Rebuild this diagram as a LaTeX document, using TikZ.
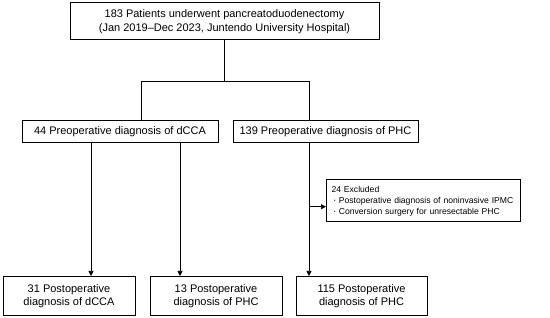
\documentclass[tikz,border=0pt]{standalone}
\usepackage{fontspec}
\setmainfont{Liberation Sans}
\usetikzlibrary{arrows.meta,positioning,calc}

\begin{document}
\begin{tikzpicture}[x=1pt,y=1pt,
  box/.style={draw,line width=1pt,align=center,inner sep=0pt,
    font=\fontsize{11}{13.5}\selectfont},
  link/.style={line width=0.7pt},
  arr/.style={link,-{Triangle[length=5pt,width=5pt]}}]
  \useasboundingbox (0,0) rectangle (550,318);
  % boxes
  \node[box,minimum width=309pt,minimum height=37pt] (top) at (224.5,296.5)
    {183 Patients underwent pancreatoduodenectomy\\(Jan 2019--Dec 2023, Juntendo University Hospital)};
  \node[box,minimum width=196pt,minimum height=22pt] (preD) at (120,186)
    {44 Preoperative diagnosis of dCCA};
  \node[box,minimum width=185pt,minimum height=22pt] (preP) at (325.5,186)
    {139 Preoperative diagnosis of PHC};
  \node[box,minimum height=42pt,align=left,anchor=west,text width=184pt,
    inner xsep=5pt,font=\fontsize{8.6}{11}\selectfont] (excl) at (326,117)
    {24 Excluded\\
     \hspace{1.5pt}{\fontsize{10}{10}\selectfont\textperiodcentered}\hspace{2.5pt}Postoperative diagnosis of noninvasive IPMC\\
     \hspace{1.5pt}{\fontsize{10}{10}\selectfont\textperiodcentered}\hspace{2.5pt}Conversion surgery for unresectable PHC};
  \node[box,minimum width=132pt,minimum height=39pt] (postD) at (69,22)
    {31 Postoperative\\diagnosis of dCCA};
  \node[box,minimum width=132pt,minimum height=39pt] (postP) at (216,22)
    {13 Postoperative\\diagnosis of PHC};
  \node[box,minimum width=131pt,minimum height=39pt] (postR) at (361.5,22)
    {115 Postoperative\\diagnosis of PHC};
  % split below the first box
  \coordinate (jL) at (141,237);
  \coordinate (jR) at (309,237);
  \draw[link] (top.south) -- (top.south |- jL);
  \draw[link] (preD.north -| jL) -- (jL) -- (jR) -- (preP.north -| jR);
  % arrows down
  \coordinate (aD) at (91,0);
  \coordinate (aP) at (180,0);
  \coordinate (aR) at (309,111.3);
  \draw[arr] (preD.south -| aD) -- (postD.north -| aD);
  \draw[arr] (preD.south -| aP) -- (postP.north -| aP);
  \draw[arr] (preP.south -| aR) -- (postR.north -| aR);
  \draw[arr] (aR) -- (aR -| excl.west);
\end{tikzpicture}
\end{document}
